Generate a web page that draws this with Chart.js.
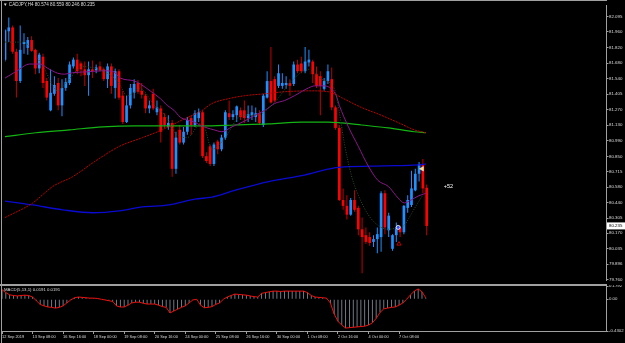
<!DOCTYPE html>
<html><head><meta charset="utf-8">
<script src="https://cdn.jsdelivr.net/npm/chart.js@4/dist/chart.umd.min.js"></script>
<style>
html,body{margin:0;padding:0;background:#000;overflow:hidden}
#wrap{position:relative;width:625px;height:343px;background:#000}
#c1{position:absolute;left:0;top:0}
#c2{position:absolute;left:0;top:285px}
</style></head><body>
<div id="wrap">
<canvas id="c1" width="625" height="285"></canvas>
<canvas id="c2" width="625" height="58"></canvas>
</div>
<script>
// ---------- DATA ----------
const titleText = 'CADJPY,H4 80.574 80.559 80.246 80.235';
const macdTitle = 'MACD(5,13,1) 0.0191 0.0191';
const timeLabels = ['12 Sep 2019','13 Sep 08:00','16 Sep 16:00','18 Sep 00:00','19 Sep 08:00','20 Sep 16:00','24 Sep 00:00','25 Sep 08:00','26 Sep 16:00','30 Sep 00:00','1 Oct 08:00','2 Oct 16:00','4 Oct 00:00','7 Oct 08:00'];
const timeLabelBars = [0,8,16,24,32,40,48,56,64,72,80,88,96,104];
const priceTicks = [82.095,81.960,81.820,81.680,81.540,81.405,81.270,81.130,80.990,80.850,80.715,80.580,80.440,80.305,80.170,80.035,79.896,79.760];
const macdTicks = [0.1792,0,-0.4302];
const macdTickLabels = ['0.1792','0.00','-0.4302'];

const open  = [81.711,81.963,81.997,81.781,81.521,81.850,81.815,81.885,81.798,81.633,81.737,81.521,81.261,81.408,81.504,81.305,81.460,81.504,81.651,81.711,81.677,81.625,81.573,81.625,81.616,81.651,81.625,81.538,81.651,81.460,81.608,81.391,81.157,81.305,81.417,81.504,81.434,81.391,81.278,81.408,81.244,81.278,81.201,81.114,81.149,80.742,81.088,80.975,81.071,81.192,81.131,81.192,81.244,80.854,80.941,80.785,80.984,80.915,81.019,81.235,81.201,81.218,81.261,81.261,81.192,81.218,81.201,81.235,81.131,81.374,81.521,81.538,81.478,81.478,81.486,81.504,81.495,81.668,81.677,81.608,81.686,81.694,81.582,81.564,81.452,81.521,81.538,81.287,81.105,80.465,80.413,80.335,80.465,80.395,80.205,80.153,80.136,80.093,80.118,80.136,80.525,80.196,80.032,80.153,80.222,80.179,80.395,80.421,80.551,80.698,80.785,80.574];
const high  = [81.980,82.084,82.014,81.807,82.014,81.945,81.911,81.919,81.807,81.772,81.763,81.547,81.625,81.564,81.547,81.538,81.547,81.694,81.729,81.763,81.694,81.694,81.694,81.703,81.668,81.694,81.642,81.677,81.677,81.633,81.625,81.434,81.391,81.495,81.538,81.530,81.504,81.408,81.348,81.452,81.348,81.305,81.235,81.218,81.175,81.071,81.131,81.114,81.201,81.218,81.261,81.278,81.261,80.889,80.958,80.975,81.001,81.045,81.261,81.348,81.261,81.305,81.287,81.348,81.305,81.305,81.287,81.261,81.408,81.608,81.824,81.564,81.668,81.590,81.564,81.538,81.694,81.711,81.737,81.824,81.798,81.711,81.651,81.608,81.547,81.668,81.642,81.305,81.131,80.568,80.508,80.482,80.551,80.413,80.309,80.222,80.179,80.153,80.222,80.542,80.551,80.352,80.162,80.265,80.239,80.421,80.508,80.724,80.742,80.802,80.828,80.603];
const low   = [81.694,81.867,81.763,81.374,81.504,81.763,81.755,81.781,81.582,81.590,81.460,81.348,81.253,81.391,81.261,81.209,81.434,81.486,81.633,81.582,81.564,81.478,81.391,81.547,81.590,81.608,81.521,81.460,81.408,81.365,81.356,81.140,81.149,81.278,81.365,81.408,81.365,81.235,81.235,81.261,81.218,80.975,81.105,81.088,80.672,80.698,80.958,80.958,81.045,81.045,81.114,81.157,80.837,80.794,80.768,80.768,80.872,80.898,81.001,81.175,81.175,81.157,81.175,81.149,81.157,81.175,81.157,81.131,81.114,81.365,81.322,81.331,81.460,81.452,81.452,81.391,81.478,81.590,81.590,81.590,81.651,81.504,81.460,81.218,81.434,81.495,81.261,81.088,80.456,80.378,80.291,80.326,80.361,80.153,79.815,80.075,80.058,80.049,79.993,80.006,80.162,80.136,80.015,80.093,80.136,80.162,80.352,80.404,80.543,80.629,80.525,80.153];
const close = [81.971,81.997,81.781,81.521,81.798,81.867,81.885,81.789,81.633,81.755,81.504,81.374,81.417,81.486,81.305,81.460,81.512,81.668,81.711,81.608,81.625,81.573,81.625,81.608,81.642,81.616,81.538,81.651,81.478,81.608,81.374,81.157,81.305,81.460,81.495,81.426,81.400,81.278,81.305,81.278,81.287,81.071,81.131,81.149,80.742,81.019,80.975,81.071,81.175,81.131,81.235,81.244,80.854,80.811,80.785,80.958,80.915,81.019,81.244,81.201,81.227,81.296,81.201,81.192,81.227,81.244,81.235,81.149,81.391,81.521,81.331,81.348,81.590,81.504,81.504,81.478,81.668,81.608,81.608,81.694,81.711,81.582,81.478,81.478,81.521,81.608,81.287,81.105,80.465,80.413,80.335,80.465,80.378,80.205,80.136,80.093,80.084,80.118,80.162,80.525,80.222,80.326,80.153,80.222,80.179,80.413,80.465,80.568,80.698,80.785,80.568,80.235];

const macd = [0.13,0.09,0.06,0.05,0.045,0.05,0.055,0.05,0.03,-0.02,-0.07,-0.09,-0.105,-0.11,-0.12,-0.11,-0.09,-0.05,-0.01,0.02,0.03,0.025,0.02,0.015,0.015,0.01,0.0,-0.01,-0.02,-0.03,-0.09,-0.105,-0.105,-0.08,-0.05,-0.04,-0.04,-0.055,-0.065,-0.065,-0.065,-0.08,-0.1,-0.11,-0.185,-0.16,-0.135,-0.11,-0.09,-0.05,-0.01,0.0,-0.08,-0.115,-0.11,-0.1,-0.07,-0.05,0.0,0.03,0.05,0.07,0.065,0.06,0.055,0.045,0.035,0.03,0.08,0.09,0.1,0.11,0.11,0.105,0.11,0.11,0.11,0.11,0.11,0.11,0.09,0.05,0.03,0.025,0.02,0.015,-0.05,-0.2,-0.3,-0.35,-0.39,-0.385,-0.38,-0.375,-0.37,-0.365,-0.35,-0.32,-0.26,-0.18,-0.13,-0.12,-0.11,-0.105,-0.08,-0.05,0.0,0.06,0.11,0.14,0.1,0.019];
const macdSignal = macd; // signal period 1: line sits on the histogram tops

const maPurple = [[0,81.547],[3,81.608],[6.5,81.672],[9.2,81.672],[11.3,81.633],[13.9,81.590],[15.7,81.582],[17.8,81.595],[21.7,81.603],[25.7,81.612],[28.3,81.608],[30.4,81.547],[34.1,81.521],[35.6,81.495],[38.2,81.434],[40.9,81.365],[42.7,81.305],[44.5,81.261],[46.1,81.201],[47.9,81.175],[49.8,81.157],[51.3,81.131],[53.2,81.105],[55,81.088],[57.1,81.071],[59.7,81.114],[63.1,81.166],[65.8,81.218],[68.4,81.261],[71,81.322],[73.6,81.348],[76.2,81.391],[79.9,81.460],[81.5,81.478],[84.1,81.478],[85.9,81.452],[87.2,81.391],[88,81.305],[90.4,81.114],[93,80.941],[95.6,80.768],[98.2,80.638],[100.9,80.586],[103.5,80.482],[105.1,80.439],[106.9,80.465],[108.7,80.499],[110.8,80.525]];
const maRed = [[0,80.309],[7.3,80.439],[12.6,80.586],[17.8,80.672],[23.8,80.811],[30.1,80.941],[36.2,81.019],[41.4,81.088],[46.6,81.175],[51.9,81.261],[54.5,81.322],[58.9,81.365],[63.1,81.391],[68.4,81.408],[73.6,81.426],[80.7,81.434],[85.1,81.426],[86.7,81.408],[88.6,81.374],[93.8,81.287],[99,81.218],[104.3,81.140],[107.7,81.088],[110.8,81.062]];
const maGreen = [[0,81.027],[8.1,81.062],[17,81.088],[25.7,81.114],[34.3,81.123],[44,81.123],[51.9,81.123],[60.5,81.131],[69.4,81.140],[78.1,81.157],[85.1,81.157],[88.6,81.149],[93.8,81.131],[100.9,81.105],[107.7,81.071],[110.8,81.062]];
const maBlue = [[0,80.456],[7.3,80.421],[15.2,80.378],[23.1,80.352],[30.1,80.369],[36.2,80.404],[43.2,80.421],[50,80.473],[54.5,80.491],[60.5,80.551],[69.4,80.629],[78.1,80.681],[86.7,80.750],[89.3,80.759],[99.8,80.768],[108.7,80.776],[110.8,80.785]];
const maFast = [[0,81.867],[4.7,81.867],[10,81.651],[13.9,81.434],[16.5,81.521],[20.4,81.651],[25.7,81.608],[29.6,81.521],[32.2,81.391],[35.6,81.452],[39.3,81.305],[42.7,81.192],[44.5,81.071],[47.9,81.019],[51.9,81.157],[54.5,80.915],[57.6,81.001],[62.4,81.218],[66.3,81.218],[70.2,81.305],[76.2,81.547],[79.9,81.625],[83.3,81.538],[86.7,81.452],[88,81.244],[89.3,80.975],[91.2,80.681],[93,80.508],[95.6,80.335],[98.2,80.240],[100.9,80.205],[103.5,80.222],[105.1,80.240],[106.4,80.309],[108.2,80.413],[109.8,80.499]];

const markArrow = [[109.8,80.742]];
const markCircle = [[103.5,80.222]];
const markUp = [[103.7,80.075]];
const note = {text:'+52', bar:115.5, price:80.586};

// ---------- CHART ----------
const X_MAX = 158.2;
const FONT = '"Liberation Sans", Arial, sans-serif';
const AX = '#a0a0a0', TXT = '#dcdcdc';
const pts = a => a.map(p => ({x:p[0], y:p[1]}));
const bull = i => close[i] >= open[i];

const frame1 = {
  id:'frame1',
  afterDraw(ch){
    const c = ch.ctx, ys = ch.scales.y, xs = ch.scales.x;
    c.save();
    c.fillStyle = AX;
    c.fillRect(0,0,607,1);
    c.fillRect(1,0,1,285);
    c.fillRect(0,284,607,1);
    c.fillStyle = TXT;
    c.font = '4.6px ' + FONT;
    c.textBaseline = 'middle'; c.textAlign = 'left';
    c.fillText('\u25BC ' + titleText, 3, 5);
    c.font = '5.5px ' + FONT;
    c.fillStyle = '#ffffff';
    c.fillText(note.text, xs.getPixelForValue(note.bar), ys.getPixelForValue(note.price));
    const last = close[close.length-1];
    const py = ys.getPixelForValue(last);
    c.fillStyle = '#ffffff';
    c.fillRect(607, py-3.5, 18, 7);
    c.fillStyle = '#000000';
    c.font = '4.4px ' + FONT;
    c.fillText(last.toFixed(3), 609, py);
    c.restore();
  }
};

new Chart(document.getElementById('c1'), {
  type:'bar',
  data:{ datasets:[
    {type:'line', data:pts(markArrow), showLine:false, pointStyle:'triangle', rotation:-90, pointRadius:2.6, pointBackgroundColor:'#ffe060', pointBorderColor:'#ffffff', pointBorderWidth:0.5, order:0},
    {type:'line', data:pts(markCircle), showLine:false, pointStyle:'circle', pointRadius:2, pointBackgroundColor:'#3050ff', pointBorderColor:'#ffffff', pointBorderWidth:0.8, order:0},
    {type:'line', data:pts(markUp), showLine:false, pointStyle:'triangle', pointRadius:2.4, pointBackgroundColor:'rgba(0,0,0,0)', pointBorderColor:'#c00000', pointBorderWidth:1, order:0},
    {type:'line', data:pts(maFast), borderColor:'#2a502a', borderWidth:1, borderDash:[1,1.5], pointRadius:0, cubicInterpolationMode:'monotone', order:1},
    {type:'line', data:pts(maPurple), borderColor:'#8a168a', borderWidth:1, pointRadius:0, cubicInterpolationMode:'monotone', order:1},
    {type:'line', data:pts(maRed), borderColor:'#c00000', borderWidth:1, borderDash:[2,1], pointRadius:0, cubicInterpolationMode:'monotone', order:1},
    {type:'line', data:pts(maGreen), borderColor:'#14b414', borderWidth:1.2, pointRadius:0, cubicInterpolationMode:'monotone', order:1},
    {type:'line', data:pts(maBlue), borderColor:'#0a0ad2', borderWidth:1.3, pointRadius:0, cubicInterpolationMode:'monotone', order:1},
    {label:'body', data:open.map((o,i)=>({x:i, y:[o, close[i]]})), grouped:false, barThickness:3, maxBarThickness:2.7, minBarLength:1, borderWidth:0, inflateAmount:0,
      backgroundColor: ctx => bull(ctx.dataIndex) ? '#1e90ff' : '#ff0000', order:2},
    {label:'wick', data:low.map((l,i)=>({x:i, y:[l, high[i]]})), grouped:false, barThickness:1, maxBarThickness:1, borderWidth:0, inflateAmount:0,
      backgroundColor: ctx => bull(ctx.dataIndex) ? '#1e90ff' : '#c00000', order:3}
  ]},
  options:{
    responsive:false, animation:false, events:[],
    layout:{padding:{left:2, top:2, right:0, bottom:1}},
    plugins:{legend:{display:false}, tooltip:{enabled:false}},
    scales:{
      x:{type:'linear', display:false, min:0, max:X_MAX, offset:false, grid:{offset:false}},
      y:{type:'linear', position:'right', min:79.755, max:82.196,
        afterBuildTicks: s => { s.ticks = priceTicks.map(v=>({value:v})); },
        afterFit: s => { s.width = 19; s.paddingTop = 0; s.paddingBottom = 0; },
        ticks:{autoSkip:false, color:TXT, padding:0.5, font:{size:4.4, family:FONT}, callback: v => v.toFixed(3)},
        grid:{drawOnChartArea:false, drawTicks:true, tickLength:2.5, color:AX},
        border:{display:true, color:AX, width:1}
      }
    }
  },
  plugins:[frame1]
});

const frame2 = {
  id:'frame2',
  afterDraw(ch){
    const c = ch.ctx;
    c.save();
    c.fillStyle = AX;
    c.fillRect(0,0,607,1);
    c.fillRect(1,0,1,58);
    c.fillStyle = TXT;
    c.font = '4.3px ' + FONT;
    c.textBaseline = 'middle'; c.textAlign = 'left';
    c.fillText(macdTitle, 4, 4.5);
    c.restore();
  }
};

new Chart(document.getElementById('c2'), {
  type:'bar',
  data:{ datasets:[
    {type:'line', data:macdSignal.map((v,i)=>({x:i, y:v})), borderColor:'#ee1010', borderWidth:1, pointRadius:0, order:0},
    {data:macd.map((v,i)=>({x:i, y:v})), barThickness:0.8, maxBarThickness:0.8, borderWidth:0, inflateAmount:0, backgroundColor:'#8c94a4', order:1}
  ]},
  options:{
    responsive:false, animation:false, events:[],
    layout:{padding:{left:2, top:1, right:0, bottom:0}},
    plugins:{legend:{display:false}, tooltip:{enabled:false}},
    scales:{
      x:{type:'linear', position:'bottom', min:0, max:X_MAX, offset:false,
        afterBuildTicks: s => { s.ticks = timeLabelBars.map(v=>({value:v})); },
        afterFit: s => { s.height = 12; s.paddingLeft = 0; s.paddingRight = 0; },
        ticks:{autoSkip:false, maxRotation:0, minRotation:0, align:'start', color:TXT, padding:0.5, font:{size:3.9, family:FONT}, callback:(v,i)=>timeLabels[i]},
        grid:{offset:false, drawOnChartArea:false, drawTicks:true, tickLength:3, color:AX},
        border:{display:true, color:AX, width:1}
      },
      y:{type:'linear', position:'right', min:-0.4302, max:0.1792,
        afterBuildTicks: s => { s.ticks = macdTicks.map(v=>({value:v})); },
        afterFit: s => { s.width = 19; s.paddingTop = 0; s.paddingBottom = 0; },
        ticks:{autoSkip:false, color:TXT, padding:0.5, font:{size:4.3, family:FONT}, callback:(v,i)=>macdTickLabels[i]},
        grid:{drawOnChartArea:false, drawTicks:true, tickLength:2.5, color:AX},
        border:{display:true, color:AX, width:1}
      }
    }
  },
  plugins:[frame2]
});
</script>
</body></html>
